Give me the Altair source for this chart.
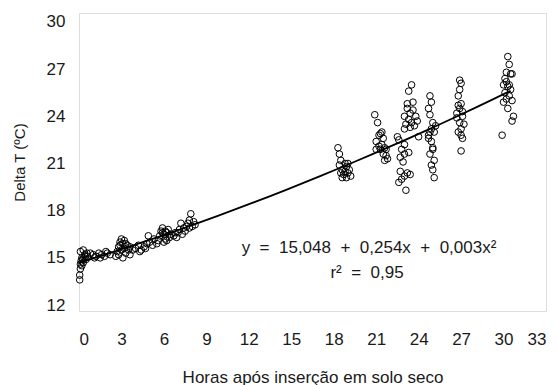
import altair as alt
import pandas as pd

# Hours after insertion (x) and Delta T (y)
hours = [
    0.05, 0.05, 0.1, 0.1, 0.15, 0.2, 0.1, 0.3, 0.35, 0.4, 0.5, 0.55, 0.2, 0.3, 0.6, 0.25, 0.45,
    1.0, 1.2, 1.4, 1.6, 1.8, 2.0, 2.2, 0.8, 1.1, 1.5, 1.9,
    2.6, 2.7, 2.8, 2.9, 3.0, 3.1, 3.2, 3.3, 3.4, 3.5, 2.8, 3.0, 3.2, 3.6, 3.6, 3.8, 3.1, 2.9, 3.3,
    4.0, 4.2, 4.4, 4.6, 4.8, 5.0, 5.2, 4.9, 5.3, 4.3, 4.7, 5.5,
    5.6, 5.7, 5.8, 5.9, 6.0, 6.1, 6.2, 6.3, 6.4, 6.5, 6.0, 6.2, 5.9, 6.1,
    6.7, 6.9, 7.0, 7.1, 7.2, 7.3, 7.4, 7.5, 7.6, 6.8,
    7.7, 7.8, 7.9, 8.0, 8.1, 8.2, 7.8,
    18.3, 18.4, 18.5, 18.4, 18.6, 18.7, 18.8, 18.9, 19.0, 19.1, 19.2, 18.6, 18.9, 19.0, 18.5, 18.8,
    20.9, 21.1, 21.2, 21.0, 21.3, 21.4, 21.5, 21.3, 21.6, 21.7, 21.8, 21.5, 21.2, 21.6, 21.7, 21.4, 21.0,
    23.5, 23.3, 23.6, 23.2, 23.4, 23.0, 23.3, 23.5, 23.7, 23.1, 23.6, 23.8, 23.4, 23.0, 23.9, 23.2,
    22.6, 22.8, 22.7, 22.9, 23.0, 23.3, 22.7, 23.0, 23.2, 22.8, 22.6, 23.1, 23.4, 23.0, 22.5, 24.0,
    24.8, 24.9, 24.7, 24.8, 25.0, 24.9, 25.1, 24.7, 24.9, 25.0, 24.8, 25.1, 24.9, 25.0, 24.7, 25.2, 25.1, 24.8, 25.0,
    26.9, 27.0, 26.8, 27.0, 26.9, 27.1, 26.7, 26.9, 27.0, 26.8, 27.1, 26.8, 27.0, 27.1, 27.0, 26.9, 26.7, 27.2,
    30.3, 30.4, 30.2, 30.5, 30.6, 30.1, 30.0, 30.3, 30.5, 30.1, 30.4, 30.2, 30.6, 30.0, 30.3, 30.7, 30.6, 29.9, 30.2, 30.4,
]
delta_t = [
    13.6, 13.9, 14.3, 14.6, 14.8, 15.0, 15.4, 14.7, 15.0, 15.2, 14.9, 15.3, 14.5, 15.5, 15.1, 14.9, 15.1,
    15.2, 15.1, 15.3, 15.2, 15.1, 15.3, 15.2, 15.3, 15.0, 15.0, 15.4,
    15.1, 15.4, 15.7, 16.0, 16.2, 15.9, 15.6, 15.3, 15.8, 15.5, 15.2, 15.5, 16.1, 15.7, 15.2, 15.5, 15.0, 15.8, 15.9,
    15.6, 15.8, 15.5, 15.7, 15.9, 16.0, 15.8, 16.4, 16.2, 15.4, 15.6, 15.9,
    16.1, 16.4, 16.7, 16.9, 16.5, 16.2, 16.6, 16.8, 16.3, 16.5, 16.0, 16.1, 16.6, 16.7,
    16.4, 16.3, 16.6, 16.8, 17.2, 16.5, 16.9, 16.7, 17.0, 16.6,
    17.2, 17.4, 17.8, 17.0, 17.3, 17.1, 16.9,
    22.0, 21.6, 21.2, 20.9, 20.6, 20.3, 20.5, 20.8, 20.4, 20.6, 20.2, 20.1, 20.1, 21.0, 20.4, 21.0,
    24.1, 23.6, 22.8, 22.4, 22.9, 22.2, 22.6, 21.9, 22.0, 21.5, 21.3, 21.6, 22.1, 21.2, 21.9, 23.0, 21.9,
    26.0, 25.6, 24.9, 24.5, 24.2, 24.0, 23.8, 23.6, 23.4, 23.5, 24.4, 24.0, 23.3, 23.2, 23.7, 24.8,
    22.5, 21.9, 21.4, 21.1, 21.6, 21.7, 20.5, 20.2, 20.4, 20.0, 19.8, 19.3, 20.3, 22.2, 22.7, 22.7,
    25.3, 24.9, 24.5, 24.1, 23.6, 23.2, 23.0, 22.8, 22.4, 22.0, 21.6, 21.2, 20.9, 20.6, 22.6, 23.4, 20.1, 23.0, 21.9,
    26.3, 26.1, 25.3, 24.8, 24.5, 24.3, 23.9, 23.6, 23.2, 23.0, 24.0, 24.7, 22.8, 22.6, 21.8, 25.7, 24.2, 23.5,
    27.8, 27.3, 26.8, 26.7, 26.7, 26.4, 26.0, 25.9, 25.7, 25.5, 25.3, 25.1, 25.0, 24.9, 24.5, 24.0, 23.7, 22.8, 26.2, 26.0,
]

x_ticks = [0, 3, 6, 9, 12, 15, 18, 21, 24, 27, 30, 33]
y_ticks = [12, 15, 18, 21, 24, 27, 30]
NB = "\u00a0"
equation = f"y{NB} ={NB} 15,048{NB} +{NB} 0,254x{NB} +{NB} 0,003x²"
r2_text = f"r²{NB} ={NB} 0,95"

df = pd.DataFrame({"h": hours, "dt": delta_t})
FONT = "Liberation Sans"
INK = "#1a1a1a"

xs = alt.Scale(domain=[0, 33], nice=False, zero=False)
ys = alt.Scale(domain=[11.62, 30.57], nice=False, zero=False)

base = alt.Chart(df)

points = base.mark_point(shape="circle", filled=False, color="black", size=44, strokeWidth=1, opacity=1).encode(
    x=alt.X("h:Q", scale=xs, axis=alt.Axis(values=x_ticks, title="Horas após inserção em solo seco",
                                          ticks=False, domain=False, grid=False, labelPadding=20,
                                          titlePadding=22, labelFontSize=17, titleFontSize=17,
                                          labelFont=FONT, titleFont=FONT, labelColor=INK,
                                          titleColor=INK, titleFontWeight="normal")),
    y=alt.Y("dt:Q", scale=ys, axis=alt.Axis(values=y_ticks, title="Delta T (ºC)",
                                           ticks=False, domain=False, grid=False, labelPadding=14,
                                           titlePadding=19, labelFontSize=17, titleFontSize=15,
                                           labelFont=FONT, titleFont=FONT, labelColor=INK,
                                           titleColor=INK, titleFontWeight="normal")),
)

fit = base.transform_regression("h", "dt", method="poly", order=2, extent=[0, 30.5]).mark_line(
    color="black", strokeWidth=1.8
).encode(x=alt.X("h:Q", scale=xs), y=alt.Y("dt:Q", scale=ys))

ann = pd.DataFrame({"t": [equation, r2_text], "px": [290, 288], "py": [235, 260]})
texts = alt.Chart(ann).mark_text(font=FONT, fontSize=17, color=INK, align="center").encode(
    x=alt.X("px:Q", scale=None), y=alt.Y("py:Q", scale=None), text="t:N"
)

chart = (points + fit + texts).properties(
    width=467, height=298, padding={"left": 79, "top": 13, "right": 11, "bottom": 74},
    autosize=alt.AutoSizeParams(type="none"),
).configure_view(stroke="black", strokeWidth=1.6).configure(background="white")

chart.save("out.html", embed_options={"renderer": "svg", "actions": False})
